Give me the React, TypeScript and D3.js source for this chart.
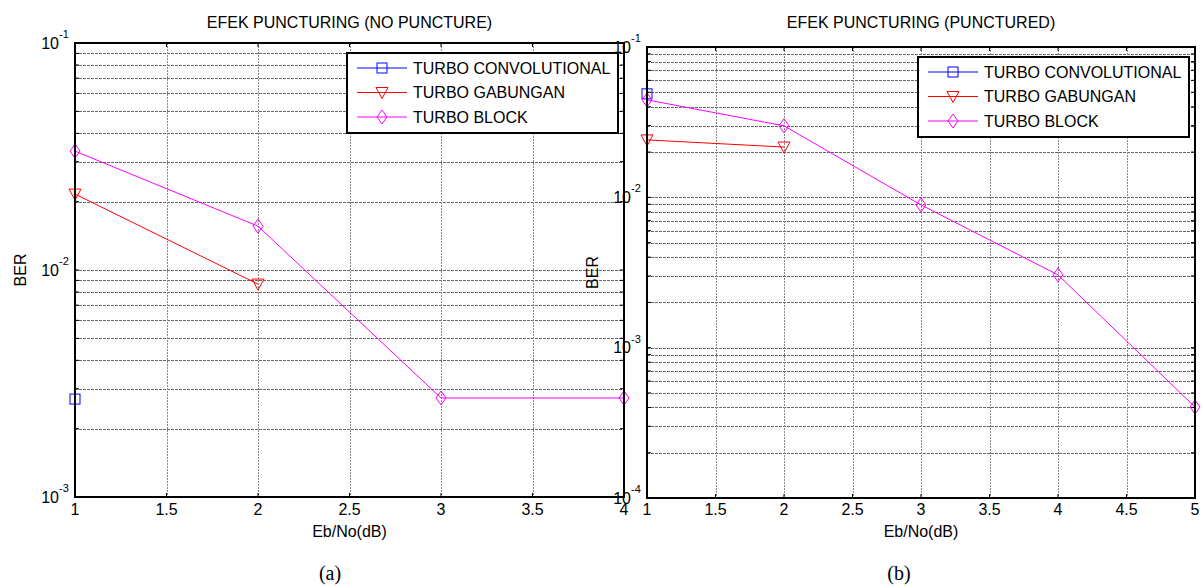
import React from 'react';
import * as d3 from 'd3';

// Eb/No points (dB)
const ebNoA = [1, 2, 3, 4];
const ebNoB = [1, 2, 3, 4, 5];

// BER values, panel (a): no puncture
const convA = [0.0027];
const gabA = [0.0216, 0.00867];
const blockA = [0.0334, 0.0156, 0.00273, 0.00273];

// panel (b): punctured
const convB = [0.0488];
const gabB = [0.0241, 0.0216];
const blockB = [0.0445, 0.0299, 0.0089, 0.00305, 0.000403];

const seriesNames = ['TURBO CONVOLUTIONAL', 'TURBO GABUNGAN', 'TURBO BLOCK'];
const seriesColors = ['#0000ff', '#ff0000', '#ff00ff'];
const seriesMarkers = ['square', 'triangle', 'diamond'];

const xTicksA = [1, 1.5, 2, 2.5, 3, 3.5, 4];
const xTicksB = [1, 1.5, 2, 2.5, 3, 3.5, 4, 4.5, 5];

const FONT = '"Liberation Sans", Arial, Helvetica, sans-serif';

const Marker = ({ kind, x, y, color }) => {
  if (kind === 'square') {
    return <rect x={x - 5} y={y - 5} width={10} height={10} fill="none" stroke={color} strokeWidth={1} />;
  }
  if (kind === 'triangle') {
    return <path d={`M${x - 6},${y - 5}L${x + 6},${y - 5}L${x},${y + 6}Z`} fill="none" stroke={color} strokeWidth={1} />;
  }
  return <path d={`M${x},${y - 7}L${x + 5},${y}L${x},${y + 7}L${x - 5},${y}Z`} fill="none" stroke={color} strokeWidth={1} />;
};

const Panel = ({ title, left, right, top, bottom, xDomain, yDomain, xTicks, xs, series, caption, captionX }) => {
  const x = d3.scaleLinear().domain(xDomain).range([left, right]);
  const y = d3.scaleLog().domain(yDomain).range([bottom, top]);
  const minor = y.ticks();
  const majors = minor.filter(v => Math.abs(Math.log10(v) - Math.round(Math.log10(v))) < 1e-9);
  const line = d3.line().x(d => x(d[0])).y(d => y(d[1]));
  const cx = (left + right) / 2;
  const legL = right - 277;
  const legT = top + 10;

  return (
    <g fontFamily={FONT}>
      <text x={cx} y={28} textAnchor="middle" fontSize={16}>{title}</text>

      {/* grid */}
      {minor.map((v, i) => (
        <line key={'hg' + i} x1={left} x2={right} y1={Math.round(y(v)) + 0.5} y2={Math.round(y(v)) + 0.5} stroke="#666" strokeWidth={1} strokeDasharray="3 1" />
      ))}
      {xTicks.map((v, i) => (
        <line key={'vg' + i} x1={Math.round(x(v)) + 0.5} x2={Math.round(x(v)) + 0.5} y1={top} y2={bottom} stroke="#888" strokeWidth={1} strokeDasharray="2 1" />
      ))}

      {/* ticks */}
      {minor.map((v, i) => (
        <g key={'yt' + i}>
          <line x1={left} x2={left + 4} y1={y(v)} y2={y(v)} stroke="#000" />
          <line x1={right} x2={right - 4} y1={y(v)} y2={y(v)} stroke="#000" />
        </g>
      ))}
      {xTicks.map((v, i) => (
        <g key={'xt' + i}>
          <line x1={x(v)} x2={x(v)} y1={bottom} y2={bottom - 4} stroke="#000" />
          <line x1={x(v)} x2={x(v)} y1={top} y2={top + 4} stroke="#000" />
          <text x={x(v)} y={515} textAnchor="middle" fontSize={16}>{v}</text>
        </g>
      ))}
      {majors.map((v, i) => (
        <g key={'yl' + i}>
          <text x={left - 16} y={y(v) + 5.5} textAnchor="end" fontSize={16}>10</text>
          <text x={left - 16} y={y(v) - 5} textAnchor="start" fontSize={11}>{Math.round(Math.log10(v))}</text>
        </g>
      ))}

      {/* data */}
      {series.map((s, si) => {
        const pts = s.map((v, i) => [xs[i], v]);
        return (
          <g key={'s' + si}>
            {pts.length > 1 && <path d={line(pts)} fill="none" stroke={seriesColors[si]} strokeWidth={1} />}
            {pts.length === 1 && <rect x={x(pts[0][0]) - 1} y={y(pts[0][1]) - 1} width={2} height={2} fill={seriesColors[si]} />}
            {pts.map((p, i) => (
              <Marker key={i} kind={seriesMarkers[si]} x={x(p[0])} y={y(p[1])} color={seriesColors[si]} />
            ))}
          </g>
        );
      })}

      {/* axes box */}
      <rect x={left} y={top} width={right - left} height={bottom - top} fill="none" stroke="#000" strokeWidth={2} />

      {/* legend */}
      <rect x={legL} y={legT} width={271} height={80} fill="#fff" stroke="#000" strokeWidth={2} />
      {seriesNames.map((n, i) => {
        const ly = legT + 15 + i * 24.5;
        return (
          <g key={'lg' + i}>
            <line x1={legL + 10} x2={legL + 60} y1={ly} y2={ly} stroke={seriesColors[i]} />
            <Marker kind={seriesMarkers[i]} x={legL + 35} y={ly} color={seriesColors[i]} />
            <text x={legL + 66} y={ly + 5.5} fontSize={16}>{n}</text>
          </g>
        );
      })}

      <text transform={`translate(${left - 49},${(top + bottom) / 2}) rotate(-90)`} textAnchor="middle" fontSize={16}>BER</text>
      <text x={cx} y={537} textAnchor="middle" fontSize={16}>Eb/No(dB)</text>
      <text x={captionX} y={580} textAnchor="middle" fontSize={20} fontFamily='"Liberation Serif", "Times New Roman", serif'>{caption}</text>
    </g>
  );
};

export default function App() {
  return (
    <svg width={1204} height={587} style={{ position: 'absolute', left: 0, top: 0, background: '#fff' }}>
      <rect width={1204} height={587} fill="#fff" />
      <Panel
        title="EFEK PUNCTURING (NO PUNCTURE)"
        left={75} right={624} top={43} bottom={497}
        xDomain={[1, 4]} yDomain={[1e-3, 1e-1]} xTicks={xTicksA} xs={ebNoA}
        series={[convA, gabA, blockA]}
        caption="(a)" captionX={330}
      />
      <Panel
        title="EFEK PUNCTURING (PUNCTURED)"
        left={647} right={1195} top={47} bottom={498}
        xDomain={[1, 5]} yDomain={[1e-4, 1e-1]} xTicks={xTicksB} xs={ebNoB}
        series={[convB, gabB, blockB]}
        caption="(b)" captionX={899}
      />
    </svg>
  );
}
